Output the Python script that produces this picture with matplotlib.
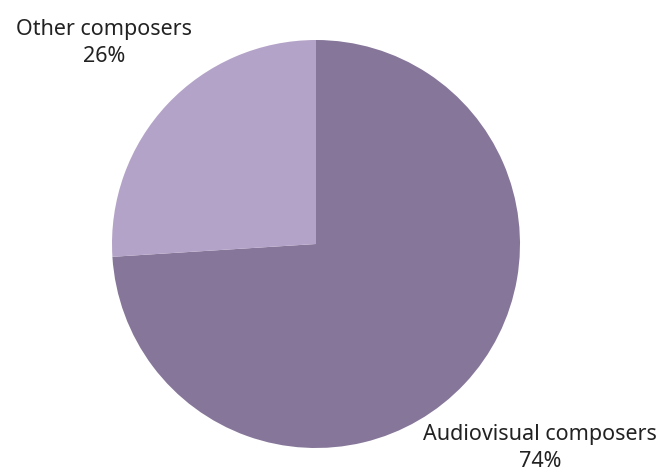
import matplotlib.pyplot as plt

# share of composers by type
groups = ['Audiovisual composers', 'Other composers']
shares = [74, 26]
colors = ['#86769a', '#b4a3c8']

fig = plt.figure(figsize=(6.62, 4.74), dpi=100)
ax = fig.add_axes([0, 0, 1, 1])
ax.set_xlim(0, 662)
ax.set_ylim(0, 474)
ax.set_aspect('equal')

ax.pie(shares, colors=colors, startangle=90, counterclock=False,
       center=(316, 230), radius=204, frame=True,
       wedgeprops=dict(linewidth=0))
ax.axis('off')

# labels outside the pie
label_pos = [(540, 26), (104, 431)]
for name, val, (x, y) in zip(groups, shares, label_pos):
    ax.text(x, y, f'{name}\n{val}%', ha='center', va='center',
            fontsize=15.5, color='#222222', family='Noto Sans',
            linespacing=1.4)

fig.savefig('out.png', dpi=100)
